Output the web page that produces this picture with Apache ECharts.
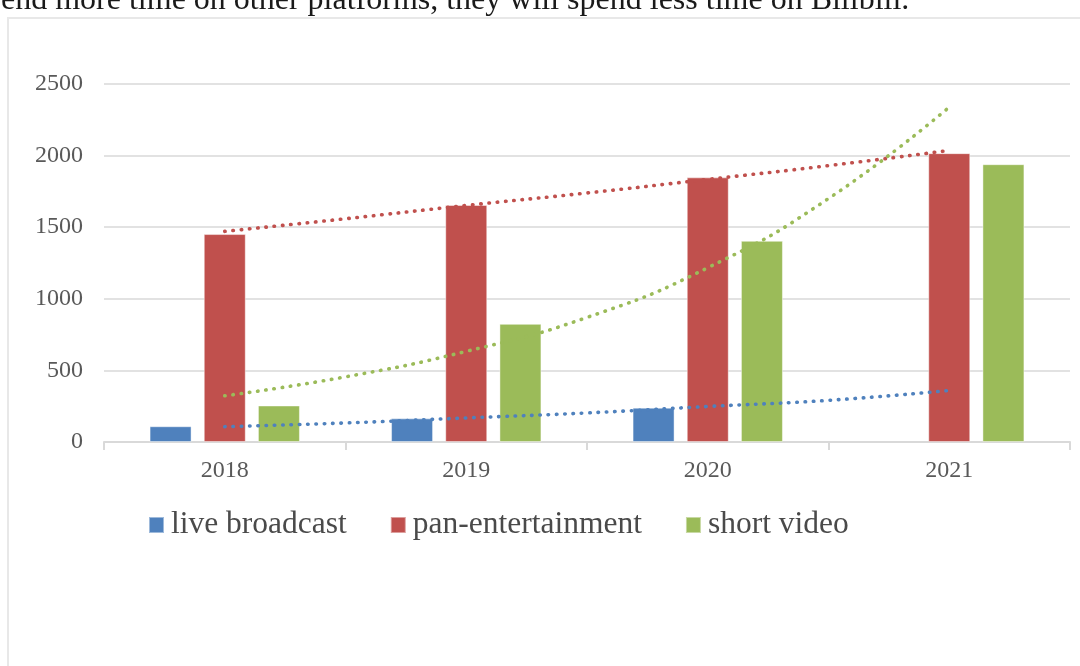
<!DOCTYPE html>
<html>
<head>
<meta charset="utf-8">
<script src="https://cdn.jsdelivr.net/npm/echarts@6/dist/echarts.min.js"></script>
<style>
html,body{margin:0;padding:0;background:#fff;}
#chart{width:1080px;height:666px;}
</style>
</head>
<body>
<div id="chart"></div>
<script>
// ---- data ----
const categories = ['2018', '2019', '2020', '2021'];
const seriesNames = ['live broadcast', 'pan-entertainment', 'short video'];
const liveBroadcast = [110, 165, 240, null];
const panEntertainment = [1452, 1655, 1848, 2017];
const shortVideo = [255, 825, 1405, 1940];
const trendPos = [0, 0.5, 1, 1.5, 2, 2.5, 3];
const trendLive = [107, 133, 168, 203, 248, 291, 360];
const trendPan = [1471, 1559, 1652, 1739, 1834, 1930, 2036];
const trendShort = [323, 455, 633, 870, 1217, 1700, 2339];
const yTicks = { min: 0, max: 2500, interval: 500 };
const headerText = 'end more time on other platforms, they will spend less time on Bilibili.';

const colors = ['#4F81BD', '#C0504D', '#9BBB59'];
const FONT = '"Liberation Serif", "Times New Roman", serif';

const chart = echarts.init(document.getElementById('chart'), null, { renderer: 'canvas' });

function pairs(ys) { return trendPos.map((x, i) => [x, ys[i]]); }

function barSeries(name, data, color) {
  return {
    name, type: 'bar', data,
    xAxisIndex: 0, yAxisIndex: 0,
    barWidth: 42, barGap: '29%',
    itemStyle: { color, borderColor: 'rgba(255,255,255,0.45)', borderWidth: 1 },
    emphasis: { disabled: true }
  };
}
function trendSeries(data, color) {
  return {
    type: 'line', data: pairs(data),
    xAxisIndex: 1, yAxisIndex: 0,
    smooth: true, symbol: 'none', silent: true,
    lineStyle: { color, width: 3.6, type: [0.5, 7.8], cap: 'round' },
    z: 5
  };
}

chart.setOption({
  animation: false,
  backgroundColor: '#ffffff',
  graphic: [
    { type: 'rect', shape: { x: 8, y: 18, width: 1200, height: 800 },
      style: { fill: 'none', stroke: '#e8e8e8', lineWidth: 2 }, z: 0 },
    { type: 'text', x: 1, y: 1,
      style: { text: headerText, font: '32px ' + FONT, fill: '#1a1a1a', verticalAlign: 'middle', align: 'left' } }
  ],
  grid: { left: 104, right: 10, top: 84, bottom: 224, containLabel: false },
  legend: {
    data: seriesNames,
    left: 148, top: 509, padding: 0,
    itemWidth: 15, itemHeight: 16, itemGap: 43,
    icon: 'rect',
    textStyle: { fontFamily: FONT, fontSize: 31.5, color: '#4a4a4a', padding: [0, 0, 0, 2] }
  },
  xAxis: [
    {
      type: 'category', data: categories,
      axisLine: { show: true, lineStyle: { color: '#d9d9d9', width: 2 } },
      axisTick: { show: true, length: 8, lineStyle: { color: '#d9d9d9', width: 2 } },
      axisLabel: { fontFamily: FONT, fontSize: 24, color: '#595959', margin: 17 },
      splitLine: { show: false }
    },
    { type: 'value', min: -0.5, max: 3.5, show: false }
  ],
  yAxis: {
    type: 'value', min: yTicks.min, max: yTicks.max, interval: yTicks.interval,
    axisLine: { show: false }, axisTick: { show: false },
    axisLabel: { fontFamily: FONT, fontSize: 24, color: '#595959', margin: 21,
      formatter: (v) => String(v) },
    splitLine: { lineStyle: { color: '#d9d9d9', width: 1.5 } }
  },
  series: [
    barSeries(seriesNames[0], liveBroadcast, colors[0]),
    barSeries(seriesNames[1], panEntertainment, colors[1]),
    barSeries(seriesNames[2], shortVideo, colors[2]),
    trendSeries(trendLive, colors[0]),
    trendSeries(trendPan, colors[1]),
    trendSeries(trendShort, colors[2])
  ]
});
</script>
</body>
</html>
